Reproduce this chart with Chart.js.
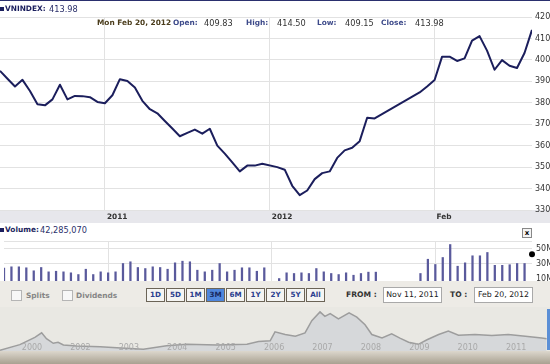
<!DOCTYPE html>
<html>
<head>
<meta charset="utf-8">
<script src="https://cdn.jsdelivr.net/npm/chart.js@4.4.0/dist/chart.umd.min.js"></script>
<style>
body{margin:0;width:550px;height:364px;overflow:hidden;background:#fff;position:relative;font-family:"DejaVu Sans",Verdana,sans-serif}
canvas{position:absolute;left:0}
.t{position:absolute;white-space:nowrap;line-height:10px;height:10px}
.b{font-weight:bold;font-size:7.4px}
.n{font-size:8.2px}
.sq{position:absolute;left:0;width:4px;height:4px;background:#1b1f5e}
.btn{position:absolute;top:288px;width:19px;height:14px;box-sizing:border-box;border:1px solid #6b6457;background:#f5f5f3;
 font-weight:bold;font-size:7.2px;color:#2b3f8f;text-align:center;line-height:12px}
.inp{position:absolute;top:287px;height:16px;box-sizing:border-box;border:1px solid #a9a9a9;background:#fff;font-size:7.8px;color:#222;text-align:center;line-height:14px}
.chk{position:absolute;top:290px;width:11px;height:11px;box-sizing:border-box;border:1px solid #b5b5b5;background:#f7f7f7}
</style>
</head>
<body>
<div style="position:absolute;left:0;top:0;width:550px;height:1px;background:#2a2f6e"></div>
<canvas id="Price" width="550" height="224" style="top:0"></canvas>
<div class="sq" style="top:7px"></div>
<div class="t b" style="left:5px;top:4px;color:#1b1f5e">VNINDEX:</div>
<div class="t n" style="left:49px;top:4px;color:#2a2f6a">413.98</div>

<div class="t b" style="left:97px;top:18px;color:#4b3d1c">Mon Feb 20, 2012</div>
<div class="t b" style="left:173px;top:18px;color:#3d4a8a">Open:</div>
<div class="t n" style="left:204px;top:18px;color:#333">409.83</div>
<div class="t b" style="left:246px;top:18px;color:#3d4a8a">High:</div>
<div class="t n" style="left:277px;top:18px;color:#333">414.50</div>
<div class="t b" style="left:317px;top:18px;color:#3d4a8a">Low:</div>
<div class="t n" style="left:345px;top:18px;color:#333">409.15</div>
<div class="t b" style="left:381px;top:18px;color:#3d4a8a">Close:</div>
<div class="t n" style="left:415px;top:18px;color:#333">413.98</div>

<div class="sq" style="top:228px"></div>
<div class="t b" style="left:5px;top:225px;color:#1b1f5e">Volume:</div>
<div class="t n" style="left:40px;top:225px;color:#2a2f6a">42,285,070</div>
<div style="position:absolute;left:522px;top:228px;width:10px;height:10px;box-sizing:border-box;border:1px solid #888;background:#f4f4f4;font:bold 7px 'DejaVu Sans';line-height:8px;text-align:center">x</div>
<canvas id="Volume" width="550" height="48" style="top:237px"></canvas>

<div style="position:absolute;left:0;top:281px;width:550px;height:26px;background:#edebe6"></div>
<div class="chk" style="left:11px"></div>
<div class="t b" style="left:26px;top:291px;color:#858585">Splits</div>
<div class="chk" style="left:62px"></div>
<div class="t b" style="left:76px;top:291px;color:#858585">Dividends</div>
<div class="btn" style="left:146px">1D</div>
<div class="btn" style="left:166px">5D</div>
<div class="btn" style="left:186px">1M</div>
<div class="btn" style="left:206px;background:#4f86dc;color:#1a2a60">3M</div>
<div class="btn" style="left:226px">6M</div>
<div class="btn" style="left:246px">1Y</div>
<div class="btn" style="left:266px">2Y</div>
<div class="btn" style="left:286px">5Y</div>
<div class="btn" style="left:306px">All</div>
<div class="t b" style="left:346px;top:290px;color:#333;font-size:7.6px">FROM :</div>
<div class="inp" style="left:383px;width:59px">Nov 11, 2011</div>
<div class="t b" style="left:450px;top:290px;color:#333;font-size:7.6px">TO :</div>
<div class="inp" style="left:474px;width:59px">Feb 20, 2012</div>

<div style="position:absolute;left:0;top:307px;width:550px;height:45px;background:#e9e8e3"></div>
<canvas id="Nav" width="550" height="45" style="top:307px"></canvas>
<div style="position:absolute;left:547px;top:309px;width:3px;height:41px;background:#5b8fd6"></div>
<div style="position:absolute;left:0;top:351px;width:550px;height:13px;background:linear-gradient(#dcd7cd,#a9a191)"></div>

<script>
// weekday slots, Nov 11 2011 (0) .. Feb 20 2012 (71); null = market closed
const closes = [394.9, 391.2, 387.6, 390.7, 385.5, 379.3, 378.8, 381.6, 388.4, 381.6,
  383.2, 383.1, 382.6, 380.4, 379.8, 383.5, 391.0, 390.2, 387.1, 380.9,
  377.0, 375.1, 371.5, 368.0, 364.4, 366.0, 367.5, 365.6, 367.9, 360.0,
  356.3, 352.2, 348.0, 350.7, 350.7, 351.6, null, 350.0, 348.8, 341.3,
  336.9, 339.1, 344.4, 347.2, 348.0, 354.3, 357.8, 359.0, 362.1, 373.0,
  372.7, null, null, null, null, null, 384.8, 387.6, 390.6, 401.5,
  401.5, 399.5, 400.7, 409.0, 411.1, 404.3, 395.4, 399.9, 397.3, 396.2,
  403.2, 413.98];
// volume, millions
const volumes = [24.0, 25.6, 25.6, 24.3, 20.3, 24.7, 18.9, 19.7, 18.9, 17.6,
  15.3, 22.4, 15.3, 18.9, 17.6, 18.9, 30.0, 32.3, 24.7, 23.3,
  25.6, 24.7, 22.4, 30.9, 33.1, 32.3, 21.1, 18.9, 21.1, 30.0,
  18.9, 21.1, 24.3, 24.3, 19.7, 24.3, null, 10.0, 17.6, 16.7,
  17.6, 16.7, 23.3, 18.9, 16.7, 15.3, 17.6, 14.4, 16.7, 18.5,
  18.5, null, null, null, null, null, 16.7, 35.7, 28.7, 38.0,
  55.3, 26.4, 30.9, 40.3, 40.3, 44.7, 27.6, 27.6, 28.4, 30.0,
  30.0, 42.29];
const xTickPos = [14, 36, 58];
const xTickText = ['2011', '2012', 'Feb'];
const priceTicks = [330, 340, 350, 360, 370, 380, 390, 400, 410, 420];
const volTicks = [10, 30, 50, 60];

// long-term navigator
const navYear = [2000.59, 2001.00, 2001.31, 2001.45, 2001.55, 2001.69, 2001.79, 2001.90, 2002.17, 2002.66,
  2003.00, 2003.55, 2004.03, 2004.45, 2005.07, 2005.69, 2005.93, 2006.17, 2006.27, 2006.48,
  2006.69, 2006.89, 2007.03, 2007.20, 2007.30, 2007.41, 2007.58, 2007.80, 2007.96, 2008.13,
  2008.27, 2008.48, 2008.68, 2008.85, 2009.03, 2009.23, 2009.41, 2009.65, 2009.85, 2010.06,
  2010.40, 2010.75, 2011.09, 2011.44, 2011.78, 2011.88];
const navLevel = [100, 255, 459, 585, 421, 293, 322, 246, 217, 196,
  167, 129, 226, 264, 246, 264, 342, 363, 614, 538,
  488, 585, 926, 1169, 1043, 1122, 976, 1140, 1023, 810,
  538, 439, 556, 439, 322, 264, 392, 538, 634, 518,
  538, 509, 538, 488, 439, 421];
const navTickYear = [2001, 2002, 2003, 2004, 2005, 2006, 2007, 2008, 2009, 2010, 2011];
const navTickText = ['2000', '2002', '2003', '2004', '2005', '2006', '2007', '2008', '2009', '2010', '2011'];

Chart.defaults.font.family = '"DejaVu Sans", Verdana, sans-serif';
Chart.defaults.animation = false;
Chart.defaults.plugins.legend.display = false;
Chart.defaults.plugins.tooltip.enabled = false;

const gridCol = '#e2e2e2';
const last = closes.length - 1;

// right axis: fixed width, and no extra room for the end labels
function fitRight(s) {
  s.width = 18;
  s.paddingTop = 0;
  s.paddingBottom = 0;
}

const band = {
  id: 'band',
  beforeDraw(chart) {
    const c = chart.ctx, a = chart.chartArea;
    c.save();
    c.fillStyle = '#e7e7ec';
    c.fillRect(0, a.bottom, chart.width, 13);
    c.restore();
  }
};

// year labels of the navigator sit inside the plot, over the fill
const navLabels = {
  id: 'navLabels',
  afterDatasetsDraw(chart) {
    const c = chart.ctx, s = chart.scales.x;
    c.save();
    c.font = '8px "DejaVu Sans"';
    c.fillStyle = '#a9a9a9';
    c.textAlign = 'left';
    c.textBaseline = 'middle';
    navTickYear.forEach((t, i) => c.fillText(navTickText[i], s.getPixelForValue(t) + 2, chart.chartArea.bottom - 4));
    c.restore();
  }
};

new Chart(document.getElementById('Price'), {
  type: 'line',
  data: {
    datasets: [{
      data: closes.map((v, i) => ({x: i, y: v})),
      borderColor: '#1b1e5c',
      borderWidth: 2,
      pointRadius: 0,
      tension: 0,
      spanGaps: true,
      borderJoinStyle: 'round'
    }]
  },
  options: {
    responsive: false,
    devicePixelRatio: 1,
    layout: {padding: {top: 17, left: 0, right: 0, bottom: 0}},
    scales: {
      x: {
        type: 'linear', min: 0, max: last,
        afterBuildTicks: s => { s.ticks = xTickPos.map(v => ({value: v})); },
        afterFit: s => { s.height = 14; },
        grid: {color: gridCol, drawTicks: false},
        border: {display: false},
        ticks: {
          autoSkip: false, maxRotation: 0, align: 'start', labelOffset: 2, padding: 3,
          color: '#333', font: {size: 7.4, weight: 'bold'},
          callback: v => xTickText[xTickPos.indexOf(v)]
        }
      },
      y: {
        position: 'right', min: 330, max: 420,
        afterBuildTicks: s => { s.ticks = priceTicks.map(v => ({value: v})); },
        afterFit: fitRight,
        grid: {color: gridCol, drawTicks: false},
        border: {display: false},
        ticks: {autoSkip: false, padding: 3, color: '#333', font: {size: 8}}
      }
    }
  },
  plugins: [band]
});

new Chart(document.getElementById('Volume'), {
  type: 'bar',
  data: {
    datasets: [{
      data: volumes.map((v, i) => ({x: i, y: i < last ? v : null})),
      backgroundColor: '#5a5a9c',
      barThickness: 1.6,
      clip: 0
    }, {
      type: 'line',
      data: [{x: last, y: volumes[last]}],
      showLine: false,
      pointRadius: 3,
      pointBackgroundColor: '#000',
      pointBorderWidth: 0,
      clip: false
    }]
  },
  options: {
    responsive: false,
    devicePixelRatio: 1,
    layout: {padding: {top: 4, left: 0, right: 0, bottom: 3.5}},
    scales: {
      x: {
        type: 'linear', min: 0, max: last, offset: false,
        afterBuildTicks: s => { s.ticks = xTickPos.map(v => ({value: v})); },
        afterFit: s => { s.height = 0; },
        grid: {color: gridCol, drawTicks: false, offset: false},
        border: {display: false},
        ticks: {display: false}
      },
      y: {
        position: 'right', min: 6.7, max: 60,
        afterBuildTicks: s => { s.ticks = volTicks.map(v => ({value: v})); },
        afterFit: fitRight,
        grid: {drawTicks: false, color: c => c.tick && c.tick.value === 10 ? 'rgba(0,0,0,0)' : gridCol},
        border: {display: false},
        ticks: {autoSkip: false, padding: 4, color: '#333', font: {size: 8}, callback: v => v === 60 ? '' : v + 'M'}
      }
    }
  }
});

new Chart(document.getElementById('Nav'), {
  type: 'line',
  data: {
    datasets: [{
      data: navYear.map((t, i) => ({x: t, y: navLevel[i]})),
      borderColor: '#9d9d9d',
      borderWidth: 1.5,
      backgroundColor: '#d6d8da',
      fill: 'start',
      pointRadius: 0,
      tension: 0
    }]
  },
  options: {
    responsive: false,
    devicePixelRatio: 1,
    layout: {padding: 0},
    scales: {
      x: {type: 'linear', min: 2000.59, max: 2011.95, display: false},
      y: {display: false, min: 50, max: 1306}
    }
  },
  plugins: [navLabels]
});
</script>
</body>
</html>
